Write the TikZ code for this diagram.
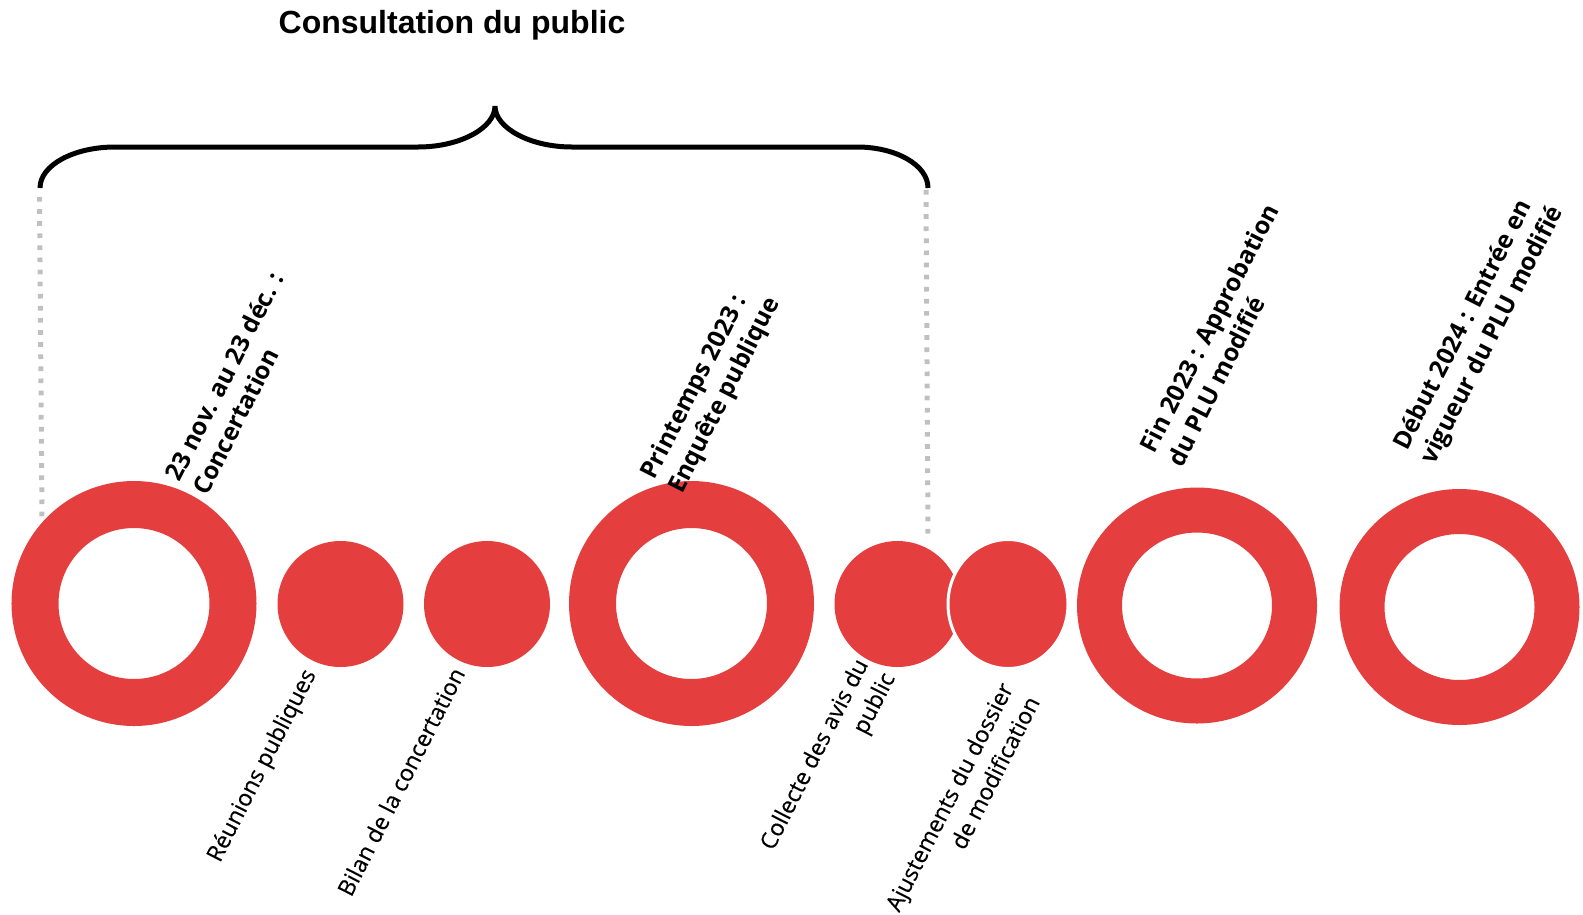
\documentclass[tikz,border=0pt]{standalone}
\usepackage{fontspec}
\setmainfont{Open Sans}
\newfontfamily\regfont{Open Sans}[FakeBold=0.3]
\newfontfamily\titlefont{Liberation Sans}
\usetikzlibrary{shapes.geometric}
\definecolor{tlred}{HTML}{E53E3E}
\definecolor{dotgray}{HTML}{C0C0C0}
\tikzset{
  ring/.style={circle, draw=tlred, line width=47pt, minimum size=198pt, inner sep=0pt},
  ellring/.style={ellipse, draw=tlred, line width=45pt, minimum width=195pt, minimum height=191pt, inner sep=0pt},
  dotnode/.style={circle, fill=tlred, minimum size=126pt, inner sep=0pt},
  toplabel/.style={rotate=63, anchor=north west, align=left, inner sep=0pt,
    font=\bfseries\fontsize{24.5}{30.5}\selectfont},
  botlabel/.style={rotate=63, anchor=north east, align=right, inner sep=0pt,
    font=\regfont\fontsize{23}{30}\selectfont},
  dotline/.style={dotgray, line width=5pt, dash pattern=on 4.7pt off 7.4pt},
  bracestyle/.style={black, line width=5pt},
  titlestyle/.style={anchor=base, inner sep=0pt, font=\titlefont\bfseries\fontsize{32}{36}\selectfont},
}
\begin{document}
\begin{tikzpicture}[x=1pt,y=-1pt]
\useasboundingbox (0,0) rectangle (1583,914);

% title
\node[titlestyle] (title) at (452,33) {Consultation du public};

% brace
\coordinate (bl) at (40,188);
\coordinate (bt) at (495,106);
\coordinate (br) at (928,188);
\draw[bracestyle] (bl) .. controls (40,165) and (74,147) .. (115,147) -- (418,147)
  .. controls (460,147) and (495,128) .. (bt)
  .. controls (495,128) and (530,147) .. (572,147) -- (857,147)
  .. controls (896,147) and (928,165) .. (br);

% dotted guides
\coordinate (dla) at (39.5,197);
\coordinate (dlb) at (42,517);
\coordinate (dra) at (926,190);
\coordinate (drb) at (928,535);
\draw[dotline] (dla) -- (dlb);
\draw[dotline] (dra) -- (drb);

% milestones
\node[ring] (r1) at (134,603.5) {};
\node[dotnode] (d1) at (340.5,604) {};
\node[dotnode] (d2) at (487,604) {};
\node[ring] (r2) at (691.5,603.5) {};
\node[dotnode] (d3) at (897.5,604) {};
\node[ellipse, fill=tlred, draw=white, line width=3pt, minimum width=120pt, minimum height=129pt, inner sep=0pt] (d4) at (1008,604) {};
\node[ellring] (r3) at (1197,605.5) {};
\node[ellring] (r4) at (1459.5,607) {};

% top labels
\node[toplabel] (t1) at (163,474.5) {23 nov. au 23 déc. :\\Concertation};
\node[toplabel] (t2) at (638,472.5) {Printemps 2023 :\\Enquête publique};
\node[toplabel] (t3) at (1138,446) {Fin 2023 : Approbation\\du PLU modifié};
\node[toplabel] (t4) at (1390,443) {Début 2024 : Entrée en\\vigueur du PLU modifié};

% bottom labels
\node[botlabel] (b1) at (300.5,666) {Réunions publiques};
\node[botlabel] (b2) at (450,665) {Bilan de la concertation};
\node[botlabel] (b3) at (853,656) {Collecte des avis du\\public};
\node[botlabel] (b4) at (998,680) {Ajustements du dossier\\de modification};
\end{tikzpicture}
\end{document}
